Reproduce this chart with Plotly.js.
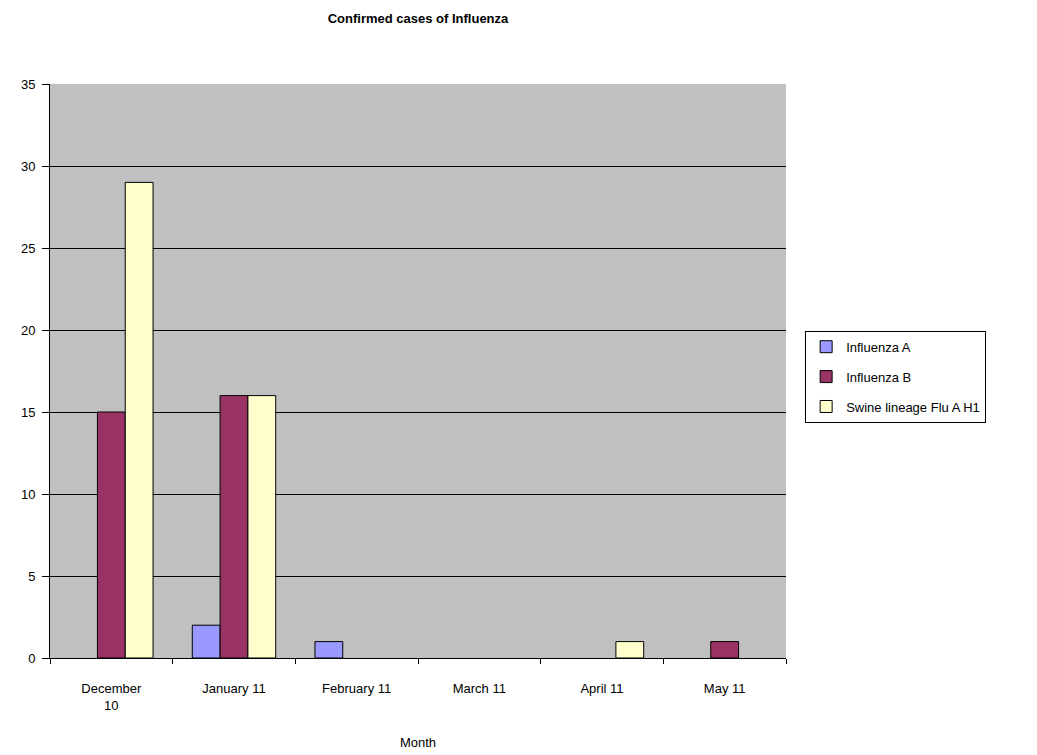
<!DOCTYPE html>
<html>
<head>
<meta charset="utf-8">
<script src="https://cdn.plot.ly/plotly-3.0.1.min.js"></script>
<style>html,body{margin:0;padding:0;background:#fff;}#chart{width:1037px;height:755px;}</style>
</head>
<body>
<div id="chart"></div>
<script>
const months = ["December<br>10", "January 11", "February 11", "March 11", "April 11", "May 11"];
const influenzaA = [0, 2, 1, 0, 0, 0];
const influenzaB = [15, 16, 0, 0, 0, 1];
const swineFlu = [29, 16, 0, 0, 1, 0];
const seriesNames = ["Influenza A", "Influenza B", "Swine lineage Flu A H1"];
const seriesColors = ["#9999FF", "#993366", "#FFFFCC"];
const seriesValues = [influenzaA, influenzaB, swineFlu];

const traces = seriesValues.map((vals, i) => ({
  type: "bar",
  name: seriesNames[i],
  x: months,
  y: vals.map(v => v === 0 ? null : v),
  legendgroup: "g" + i,
  marker: {color: seriesColors[i], line: {color: "#000", width: 1}},
  hoverinfo: "x+y+name"
}));

const layout = {
  width: 1037, height: 755,
  margin: {l: 50, r: 251, t: 84, b: 97},
  paper_bgcolor: "#FFFFFF",
  plot_bgcolor: "#C0C0C0",
  font: {family: "Liberation Sans, Arial, sans-serif", size: 13, color: "#000"},
  title: {text: "<b>Confirmed cases of Influenza</b>", font: {size: 13, family: "Liberation Sans, Arial, sans-serif"}, x: 0.5, xref: "paper", y: 1 - 18/755, yanchor: "middle"},
  barmode: "group",
  bargap: 0.32,
  bargroupgap: 0,
  showlegend: true,
  legend: {
    x: 1.026, xanchor: "left", y: 0.49, yanchor: "middle",
    bordercolor: "#000", borderwidth: 1, bgcolor: "#FFFFFF",
    font: {size: 13}, traceorder: "grouped", tracegroupgap: 10,
    itemwidth: 30
  },
  xaxis: {
    type: "category",
    showline: true, linecolor: "#000", linewidth: 1,
    ticks: "outside", ticklen: 5, tickcolor: "#000", tickson: "boundaries",
    ticklabelstandoff: 18,
    showgrid: false, mirror: false,
    title: {text: "Month", font: {size: 13}, standoff: 26},
    automargin: false
  },
  yaxis: {
    range: [0, 35], dtick: 5, tick0: 0,
    showline: true, linecolor: "#000", linewidth: 1,
    ticks: "outside", ticklen: 7, tickcolor: "#000",
    ticklabelstandoff: 4,
    showgrid: true, gridcolor: "#000", gridwidth: 1,
    zeroline: false,
    automargin: false
  }
};

Plotly.newPlot("chart", traces, layout, {displayModeBar: false, staticPlot: true});
</script>
</body>
</html>
